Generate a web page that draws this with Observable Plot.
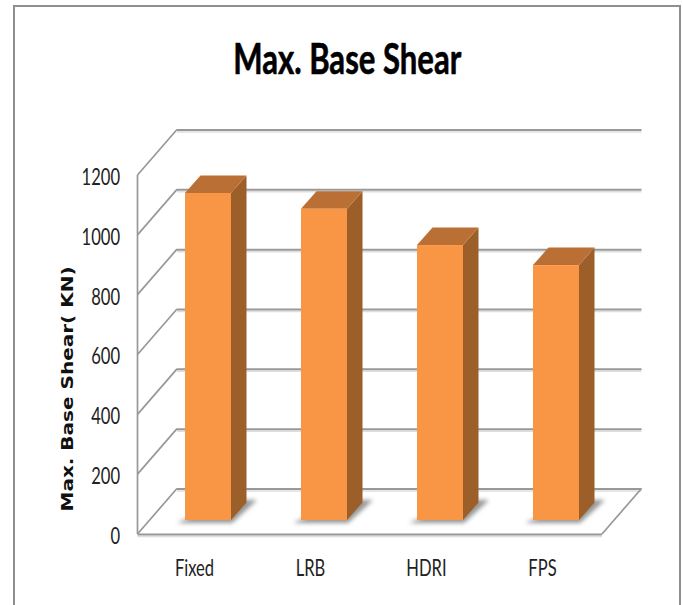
<!DOCTYPE html>
<html>
<head>
<meta charset="utf-8">
<script src="https://cdn.jsdelivr.net/npm/d3@7"></script>
<script src="https://cdn.jsdelivr.net/npm/@observablehq/plot@0.6"></script>
<style>
  html, body { margin: 0; padding: 0; background: #fff; }
  #chart { position: relative; width: 683px; height: 605px; overflow: hidden; }
  #chart svg { position: absolute; left: 0; top: 0; background: transparent; }
  #border { position: absolute; left: 13px; top: 5px; width: 664px; height: 600px;
            border: 2px solid #8e8e8e; border-bottom: none; }
</style>
</head>
<body>
<div id="chart"><div id="border"></div></div>
<script>
// Peak base shear for each isolation system
const categories = ["Fixed", "LRB", "HDRI", "FPS"];
const shear = [1093, 1040, 919, 852];
const yTicks = [0, 200, 400, 600, 800, 1000, 1200];

const titleText = "Max. Base Shear";
const yLabel = "Max. Base Shear( KN)";

const rows = categories.map((category, i) => ({category, shear: shear[i]}));

// Oblique projection offsets, in pixels
const wallDepth = {dx: 39.5, dy: -45.5};
const barInset = {dx: 12, dy: -14};
const barDepth = {dx: 15.5, dy: -17.5};

const gridColor = "#989898";
const gridShade = "#dedede";
const shadowColor = "#979797";
const frontColor = "#f99646";
const topColor = "#ba7034";
const sideColor = "#9c5f2a";
const labelFont = "Lato, sans-serif";

const polygon = (g, points, fill) =>
  g.append("polygon").attr("points", points.map((p) => p.join(",")).join(" ")).attr("fill", fill);

// Left wall diagonals, the front vertical edge and the right edge of the floor
function walls(index, {y}, values, {width, marginLeft, marginRight}) {
  const g = d3.create("svg:g").attr("stroke", gridColor).attr("fill", "none");
  const segment = (x1, y1, x2, y2, w) =>
    g.append("line").attr("x1", x1).attr("y1", y1).attr("x2", x2).attr("y2", y2).attr("stroke-width", w);
  const left = marginLeft;
  const right = width - marginRight;
  for (const t of yTicks) {
    segment(left, y(t), left + wallDepth.dx, y(t) + wallDepth.dy, 1.7);
  }
  segment(left, y(0), left, y(yTicks[yTicks.length - 1]), 1.7);
  segment(right, y(0), right + wallDepth.dx, y(0) + wallDepth.dy, 1.7);
  return g.node();
}

// Soft shadow cast by each column on the floor
function shadows(index, {x, y}) {
  const g = d3.create("svg:g").style("filter", "blur(2px)");
  for (const i of index) {
    const x0 = x(rows[i].category) + barInset.dx;
    const x1 = x0 + x.bandwidth();
    const base = y(0) + barInset.dy;
    polygon(g, [[x0 - 8, base + 3], [x1 + 1, base + 3], [x1 + 26, base - 20], [x1, base - 20]], shadowColor);
  }
  return g.node();
}

// Top and side faces of each column
function faces(index, {x, y}) {
  const g = d3.create("svg:g");
  for (const i of index) {
    const x0 = x(rows[i].category) + barInset.dx;
    const x1 = x0 + x.bandwidth();
    const base = y(0) + barInset.dy;
    const top = y(rows[i].shear) + barInset.dy;
    const {dx, dy} = barDepth;
    polygon(g, [[x1, top], [x1 + dx, top + dy], [x1 + dx, base + dy], [x1, base]], sideColor);
    polygon(g, [[x0, top], [x0 + dx, top + dy], [x1 + dx, top + dy], [x1, top]], topColor);
  }
  return g.node();
}

const chart = Plot.plot({
  width: 683,
  height: 605,
  marginLeft: 137.5,
  marginRight: 81,
  marginTop: 175,
  marginBottom: 71,
  style: {background: "transparent", overflow: "visible"},
  x: {domain: categories, paddingInner: 0.6, paddingOuter: 0.3, label: null},
  y: {domain: [0, 1200], label: null},
  marks: [
    Plot.ruleY(yTicks, {dx: wallDepth.dx, dy: wallDepth.dy + 2, stroke: gridShade, strokeWidth: 1.5}),
    Plot.ruleY([0], {dy: 2, stroke: gridShade, strokeWidth: 1.5}),
    Plot.ruleY(yTicks, {dx: wallDepth.dx, dy: wallDepth.dy, stroke: gridColor, strokeWidth: 2}),
    Plot.ruleY([0], {stroke: gridColor, strokeWidth: 2}),
    Plot.ruleY(yTicks, {render: walls}),
    Plot.barY(rows, {x: "category", y: "shear", render: shadows}),
    Plot.barY(rows, {x: "category", y: "shear", render: faces}),
    Plot.barY(rows, {x: "category", y: "shear", fill: frontColor, dx: barInset.dx, dy: barInset.dy}),
    Plot.axisY({
      ticks: yTicks,
      tickFormat: (d) => String(d),
      tickSize: 0,
      tickPadding: 18,
      dy: 2,
      label: null,
      fontFamily: labelFont,
      fontSize: 23,
      fill: "#222"
    }),
    Plot.axisX({
      tickSize: 0,
      tickPadding: 25,
      dx: -2,
      label: null,
      fontFamily: labelFont,
      fontSize: 23,
      fill: "#222"
    }),
    Plot.text([titleText], {
      frameAnchor: "top",
      lineAnchor: "middle",
      textAnchor: "middle",
      dx: -23,
      dy: -115,
      fontFamily: labelFont,
      fontWeight: "bold",
      fontSize: 42,
      fill: "#000",
      stroke: "#000",
      strokeWidth: 0.6,
      className: "chart-title"
    }),
    Plot.text([yLabel], {
      frameAnchor: "left",
      textAnchor: "middle",
      rotate: -90,
      dx: -70,
      dy: 34,
      fontFamily: "'DejaVu Sans', sans-serif",
      fontWeight: "bold",
      fontSize: 16,
      fill: "#111",
      className: "chart-ylabel"
    })
  ]
});
document.getElementById("chart").appendChild(chart);

// Condense the labels horizontally along their reading direction
function fit(selector, factor) {
  d3.select(chart).selectAll(selector).each(function () {
    this.setAttribute("lengthAdjust", "spacingAndGlyphs");
    this.setAttribute("textLength", this.getComputedTextLength() * factor);
  });
}
fit('g[aria-label="y-axis tick label"] text', 0.72);
fit('g[aria-label="x-axis tick label"] text', 0.72);
const fitTo = (selector, length) => d3.select(chart).selectAll(selector)
  .attr("lengthAdjust", "spacingAndGlyphs").attr("textLength", length);
fitTo(".chart-title text", 228);
fitTo(".chart-ylabel text", 245);
</script>
</body>
</html>
